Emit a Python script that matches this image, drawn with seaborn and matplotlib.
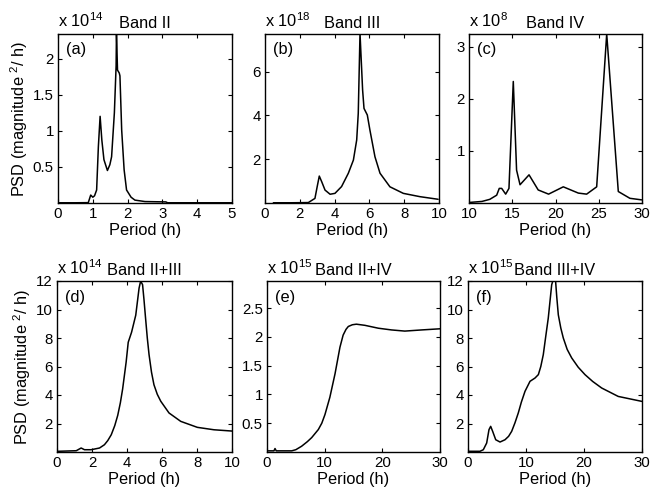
#! /usr/bin/env python3

# imports
import matplotlib
matplotlib.use('Agg')
import matplotlib.pyplot as plt
import seaborn as sns
import numpy as np


# data (y in units of the multiplier)
# (a) Band II, x 10^14
a_period = [0.0, 0.5, 0.87, 0.94, 1.0, 1.05, 1.11, 1.16, 1.21, 1.26, 1.32, 1.42, 1.49, 1.54,
            1.62, 1.67, 1.68, 1.71, 1.76, 1.78, 1.83, 1.9, 1.97, 2.1, 2.21, 2.5, 3.1, 3.15, 5.0]
a_psd = [0.003, 0.003, 0.005, 0.11, 0.08, 0.1, 0.18, 0.78, 1.2, 0.87, 0.6, 0.45, 0.53, 0.64,
         1.25, 1.9, 2.36, 1.84, 1.8, 1.76, 1.01, 0.46, 0.18, 0.08, 0.04, 0.02, 0.015, 0.003, 0.003]

# (b) Band III, x 10^18
b_period = [0.48, 1.5, 2.49, 2.87, 3.0, 3.12, 3.26, 3.45, 3.74, 4.02, 4.4, 4.79, 5.08, 5.27,
            5.36, 5.46, 5.61, 5.69, 5.88, 6.03, 6.32, 6.61, 7.18, 7.95, 8.9, 9.95]
b_psd = [0.01, 0.01, 0.02, 0.21, 0.75, 1.23, 0.97, 0.59, 0.4, 0.44, 0.75, 1.36, 1.96, 2.88,
         4.1, 7.75, 5.16, 4.32, 4.02, 3.33, 2.11, 1.36, 0.74, 0.44, 0.29, 0.17]

# (c) Band IV, x 10^8
c_period = [10.0, 11.5, 12.4, 13.2, 13.5, 13.78, 14.24, 14.62, 15.12, 15.5, 15.9, 16.94,
            18.0, 19.2, 20.9, 22.64, 23.6, 24.76, 25.92, 27.26, 28.6, 29.96]
c_psd = [0.01, 0.03, 0.07, 0.15, 0.28, 0.28, 0.17, 0.28, 2.33, 0.63, 0.35, 0.54,
         0.25, 0.17, 0.31, 0.19, 0.17, 0.31, 3.24, 0.22, 0.09, 0.06]

# (d) Band II+III, x 10^14
d_period = [0.07, 1.1, 1.38, 1.57, 1.95, 2.43, 2.71, 2.9, 3.1, 3.3, 3.47, 3.62, 3.75, 3.95,
            4.07, 4.26, 4.5, 4.62, 4.69, 4.78, 4.89, 4.97, 5.06, 5.16, 5.26, 5.4, 5.54, 5.73,
            5.93, 6.4, 7.07, 8.02, 8.97, 10.0]
d_psd = [0.05, 0.09, 0.28, 0.16, 0.16, 0.28, 0.51, 0.8, 1.21, 1.85, 2.57, 3.45, 4.42, 6.3,
         7.7, 8.4, 9.6, 10.8, 11.5, 12.0, 11.74, 10.7, 9.4, 8.0, 6.83, 5.6, 4.72, 4.05,
         3.56, 2.74, 2.15, 1.73, 1.56, 1.47]

# (e) Band II+IV, x 10^15
e_period = [0.23, 1.2, 1.39, 1.6, 4.28, 5.0, 6.0, 7.0, 7.75, 8.9, 9.5, 10.05, 10.9, 11.8,
            12.65, 13.2, 13.7, 14.1, 14.8, 15.5, 16.98, 19.3, 21.6, 23.9, 26.8, 30.0]
e_psd = [0.02, 0.02, 0.06, 0.02, 0.02, 0.04, 0.1, 0.18, 0.25, 0.39, 0.5, 0.65, 0.95, 1.36,
         1.82, 2.03, 2.13, 2.18, 2.21, 2.22, 2.2, 2.15, 2.12, 2.1, 2.12, 2.14]

# (f) Band III+IV, x 10^15
f_period = [0.05, 2.07, 2.64, 3.22, 3.62, 3.91, 4.25, 4.78, 5.52, 6.38, 7.0, 7.53, 8.1,
            8.67, 9.2, 9.83, 10.69, 11.55, 12.13, 12.55, 12.98, 13.4, 13.84, 14.43, 14.7,
            15.1, 15.3, 15.57, 16.0, 16.43, 17.1, 17.88, 19.0, 20.17, 21.5, 23.05, 25.9, 30.0]
f_psd = [0.05, 0.05, 0.16, 0.63, 1.57, 1.8, 1.45, 0.86, 0.7, 0.86, 1.1, 1.45, 2.05,
         2.74, 3.5, 4.26, 4.96, 5.19, 5.43, 6.0, 6.83, 8.1, 9.4, 11.74, 12.1,
         12.0, 10.9, 9.63, 8.7, 8.0, 7.2, 6.6, 5.95, 5.43, 4.95, 4.49, 3.9, 3.55]

panels = [
    # label, title, exponent, x, y, xlim, ylim, xticks, yticks, axes rect in px (l, t, r, b)
    ('(a)', 'Band II', 14, a_period, a_psd, (0, 5), (0, 2.34), [0, 1, 2, 3, 4, 5],
     [0.5, 1, 1.5, 2], (58, 34, 232, 203)),
    ('(b)', 'Band III', 18, b_period, b_psd, (0, 10), (0, 7.72), [0, 2, 4, 6, 8, 10],
     [2, 4, 6], (265, 34, 439, 203)),
    ('(c)', 'Band IV', 8, c_period, c_psd, (10, 30), (0, 3.24), [10, 15, 20, 25, 30],
     [1, 2, 3], (469, 34, 642, 203)),
    ('(d)', 'Band II+III', 14, d_period, d_psd, (0, 10), (0, 12), [0, 2, 4, 6, 8, 10],
     [2, 4, 6, 8, 10, 12], (57, 281, 232, 452)),
    ('(e)', 'Band II+IV', 15, e_period, e_psd, (0, 30), (0, 2.97), [0, 10, 20, 30],
     [0.5, 1, 1.5, 2, 2.5], (267, 281, 440, 452)),
    ('(f)', 'Band III+IV', 15, f_period, f_psd, (0, 30), (0, 12), [0, 10, 20, 30],
     [2, 4, 6, 8, 10, 12], (468, 281, 642, 452)),
]

W, H = 651, 495

sns.set_style('ticks')
plt.rcParams['font.family'] = ['Liberation Sans', 'DejaVu Sans']
plt.rcParams['mathtext.fontset'] = 'custom'
plt.rcParams['mathtext.rm'] = 'Liberation Sans'
plt.rcParams['axes.linewidth'] = 1.0
plt.rcParams['text.color'] = 'k'
plt.rcParams['axes.labelcolor'] = 'k'

fig = plt.figure(figsize=(W / 100, H / 100), dpi=100)

for label, title, exp, xs, ys, xlim, ylim, xt, yt, (l, t, r, b) in panels:
    ax = fig.add_axes([l / W, 1 - b / H, (r - l) / W, (b - t) / H])
    sns.lineplot(x=xs, y=ys, ax=ax, color='k', lw=1.1, sort=False, estimator=None)
    ax.set_xlim(*xlim)
    ax.set_ylim(*ylim)
    ax.set_xticks(xt)
    ax.set_xticklabels([f'{v:g}' for v in xt])
    ax.set_yticks(yt)
    ax.set_yticklabels([f'{v:g}' for v in yt])
    ax.tick_params(direction='in', top=True, right=True, length=3, width=0.8,
                   labelsize=10.8, pad=3, colors='k')
    for s in ax.spines.values():
        s.set_color('k')
    ax.set_xlabel('Period (h)', fontsize=11.8, labelpad=1)
    ax.set_title(title, fontsize=11.8, pad=4, color='k')
    ax.text(0.0, 1.025, r'x $\mathregular{10^{%d}}$' % exp, transform=ax.transAxes,
            ha='left', va='bottom', fontsize=11.8)
    ax.text(0.045, 0.95, label, transform=ax.transAxes, ha='left', va='top', fontsize=11.8)
    if label in ('(a)', '(d)'):
        ax.set_ylabel(r'PSD (magnitude $\mathregular{^{2}}$/ h)', fontsize=11.8, labelpad=2)

fig.savefig('out.png', dpi=100)
